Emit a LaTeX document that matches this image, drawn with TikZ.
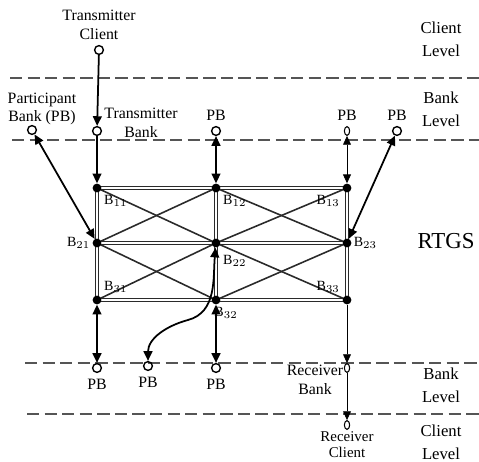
\documentclass[tikz,border=0pt]{standalone}
\usepackage{fontspec}
\setmainfont{Liberation Serif}
\usetikzlibrary{arrows.meta, positioning, shapes.geometric}
\definecolor{linegray}{HTML}{2A2A2A}
\definecolor{dashgray}{HTML}{555555}

\begin{document}
\begin{tikzpicture}[x=0.02cm, y=-0.02cm,
  lbl/.style={font=\fontsize{9}{10.5}\selectfont, align=center, inner sep=0pt},
  lvl/.style={font=\fontsize{9.5}{13}\selectfont, align=center, inner sep=0pt},
  sub/.style={font=\fontsize{8}{9}\selectfont, inner sep=1pt},
  dot/.style={circle, fill=black, inner sep=0pt, minimum size=5pt},
  port/.style={circle, draw, line width=0.8pt, inner sep=0pt, minimum size=5pt},
  slim/.style={ellipse, draw, line width=0.6pt, inner sep=0pt, minimum width=3pt, minimum height=5pt},
  arr/.style={-{Triangle[length=5.5pt, width=5pt]}, line width=1pt},
  biarr/.style={{Triangle[length=5.5pt, width=5pt]}-{Triangle[length=5.5pt, width=5pt]}, line width=1pt},
  thinarr/.style={-{Triangle[length=5pt, width=4.5pt]}, line width=0.45pt},
  thinbi/.style={{Triangle[length=5pt, width=4.5pt]}-{Triangle[length=5pt, width=4.5pt]}, line width=0.45pt},
  frame/.style={double, double distance=1.1pt, line width=0.8pt, draw=linegray},
  cross/.style={line width=0.9pt, draw=linegray},
  level/.style={draw=dashgray, line width=1.1pt, dash pattern=on 7pt off 3pt},
]
  \useasboundingbox (0,0) rectangle (479,462);

  % level separators
  \draw[level] (10,78) -- (479,78);
  \draw[level] (12,140) -- (479,140);
  \draw[level] (25,363) -- (479,363);
  \draw[level] (27,414) -- (479,414);

  % RTGS grid
  \foreach \r/\y in {1/188, 2/243, 3/300}
    \foreach \c/\x in {1/97, 2/216, 3/347}
      \coordinate (g\r\c) at (\x,\y);

  \draw[cross] (g11) -- (g22) -- (g13);
  \draw[cross] (g21) -- (g12) -- (g23);
  \draw[cross] (g21) -- (g32) -- (g23);
  \draw[cross] (g31) -- (g22) -- (g33);
  \draw[frame] (g21) -- (g23);
  \draw[frame] (g12) -- (g32);
  \draw[frame] (g11) rectangle (g33);

  \foreach \r in {1,2,3}
    \foreach \c in {1,2,3}
      \node[dot] (b\r\c) at (g\r\c) {};

  \node[sub, below right=1pt and 1pt of b11] {B$_{11}$};
  \node[sub, below right=1pt and 1pt of b12] {B$_{12}$};
  \node[sub, below left=1pt and 1pt of b13] {B$_{13}$};
  \node[sub, left=0pt of b21] {B$_{21}$};
  \node[sub, below right=4pt and 1pt of b22] {B$_{22}$};
  \node[sub, right=0pt of b23] {B$_{23}$};
  \node[sub, above right=1pt and 1pt of b31] {B$_{31}$};
  \node[sub, below right=1pt and -4pt of b32] {B$_{32}$};
  \node[sub, above left=1pt and 1pt of b33] {B$_{33}$};

  % transmitter side
  \node[lbl] (tcl) at (99,25) {Transmitter\\Client};
  \node[port] (tc) at (99,50) {};
  \node[port] (tb) at (97,131) {};
  \node[lbl] (tbl) at (141,123) {Transmitter\\Bank};
  \draw[arr] (tc) -- (tb);
  \draw[arr] (tb) -- (b11);

  % participant banks, top
  \node[lbl] (pbl) at (42,109) {Participant\\Bank (PB)};
  \node[port] (pb0) at (32,130) {};
  \node[port] (pb1) at (216,131) {};
  \node[lbl, above=3pt of pb1] {PB};
  \node[slim] (pb2) at (347,131) {};
  \node[lbl, above=3pt of pb2] {PB};
  \node[port] (pb3) at (397,131) {};
  \node[lbl, above=3pt of pb3] {PB};
  \draw[biarr] (pb0) -- (b21);
  \draw[biarr] (pb1) -- (b12);
  \draw[thinbi] (pb2) -- (b13);
  \draw[biarr] (pb3) -- (b23);

  % participant banks, bottom
  \node[port] (pb4) at (97,368) {};
  \node[lbl, below=3pt of pb4] {PB};
  \node[port] (pb5) at (148,366) {};
  \node[lbl, below=3pt of pb5] {PB};
  \node[port] (pb6) at (216,368) {};
  \node[lbl, below=3pt of pb6] {PB};
  \coordinate (bend) at (188,320);
  \draw[biarr] (b31) -- (pb4);
  \draw[biarr] (pb5) to[out=90, in=195] (bend) to[out=15, in=-95] (b22);
  \draw[biarr] (b32) -- (pb6);

  % receiver side
  \node[slim] (rb) at (347,368) {};
  \node[lbl] (rbl) at (315,380) {Receiver\\Bank};
  \node[slim] (rc) at (347,425) {};
  \node[lbl, font=\fontsize{8.5}{9}\selectfont, below=1pt of rc] (rcl) {Receiver\\Client};
  \draw[thinarr] (b33) -- (rb);
  \draw[thinarr] (rb) -- (rc);

  % level names
  \node[lvl] at (441,39) {Client\\Level};
  \node[lvl] at (441,109) {Bank\\Level};
  \node[font=\fontsize{13}{15}\selectfont] at (446,241) {RTGS};
  \node[lvl] at (441,385) {Bank\\Level};
  \node[lvl] at (441,442) {Client\\Level};
\end{tikzpicture}
\end{document}
